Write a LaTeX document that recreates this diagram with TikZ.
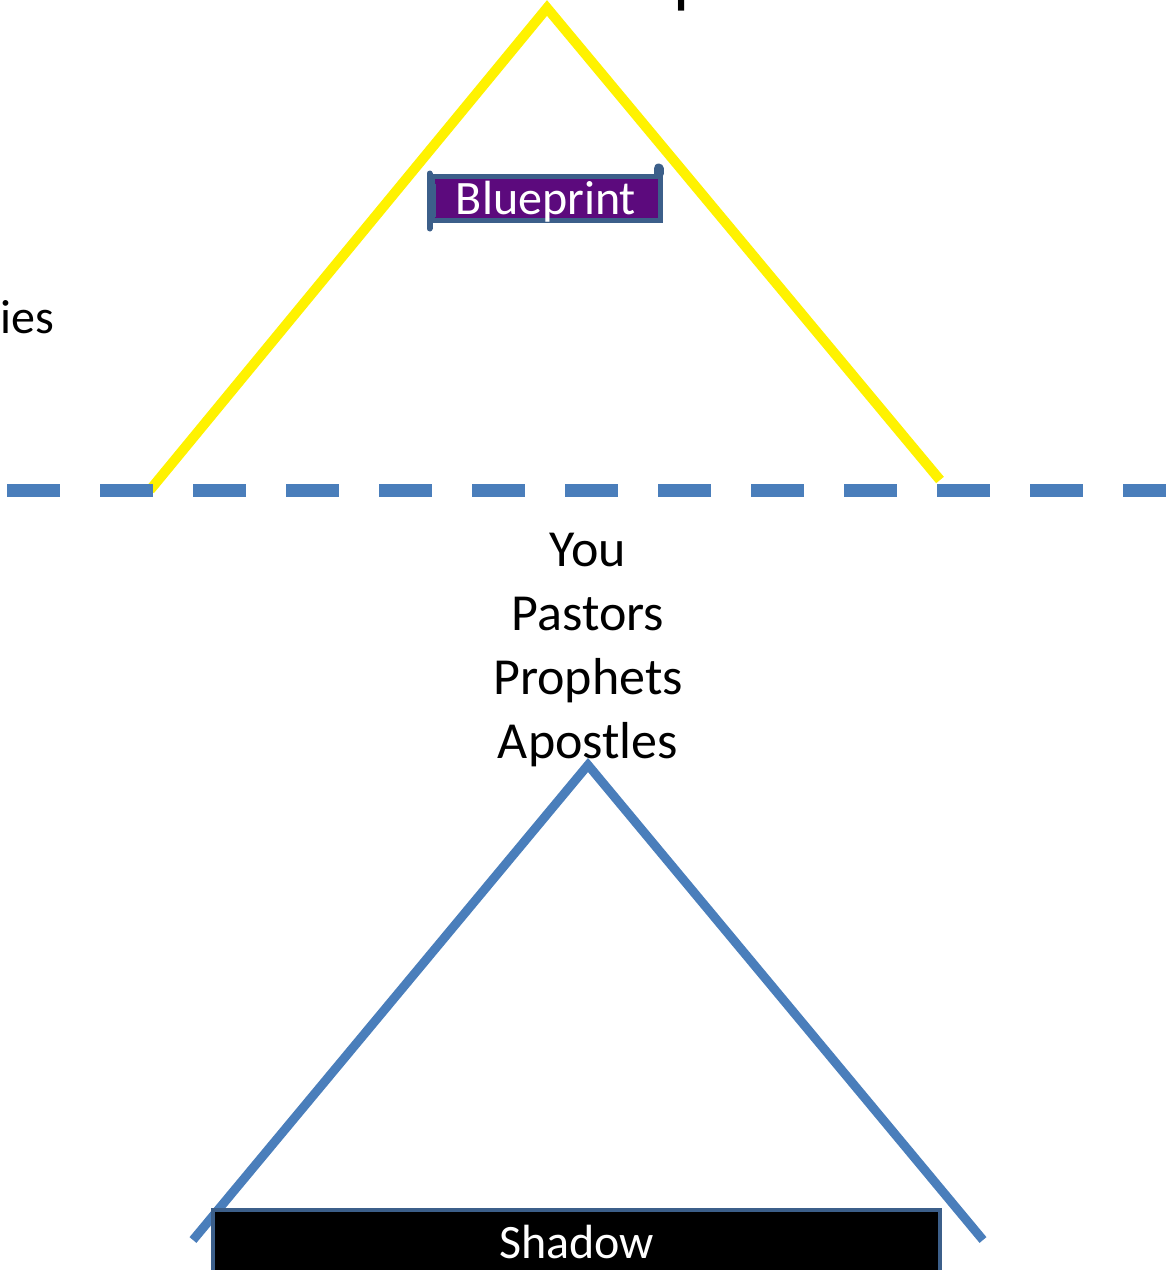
\documentclass[tikz,border=0pt]{standalone}
\usepackage{fontspec}
\setmainfont{Carlito}
\usetikzlibrary{positioning}
\definecolor{lineblue}{HTML}{4A7EBB}
\definecolor{boxedge}{HTML}{3C5F8A}
\definecolor{scrollfill}{HTML}{5C0A7D}
\tikzset{
    word/.style={font=\fontsize{26}{32}\selectfont, inner sep=0pt},
    bigword/.style={font=\fontsize{36}{43}\selectfont, inner sep=0pt},
    smallword/.style={font=\fontsize{24}{29}\selectfont, inner sep=0pt},
    scroll/.style={smallword, text=white, fill=scrollfill, draw=boxedge,
        line width=2.5pt, minimum width=114pt, minimum height=22pt,
        text depth=0.5pt},
    shadowbox/.style={smallword, text=white, fill=black, draw=boxedge,
        line width=2pt, minimum width=363.5pt, minimum height=32pt},
}

\begin{document}
\begin{tikzpicture}[x=0.5pt, y=-0.5pt]
    \useasboundingbox (0,0) rectangle (1166,1270);
    \clip (0,0) rectangle (1166,1270);

    % upper triangle and the line
    \coordinate (yl) at (150,490);
    \coordinate (ytop) at (547,8);
    \coordinate (yr) at (940,480);
    \draw[yellow, line width=5pt] (yl) -- (ytop) -- (yr);

    \coordinate (dstart) at (7,490);
    \coordinate (dend) at (1166,490);
    \draw[lineblue, line width=6.5pt, dash pattern=on 26.5pt off 20pt]
        (dstart) -- (dend);

    \node[bigword, anchor=base west] (title) at (311,-0.5) {Father Son Spirit};
    \node[smallword, anchor=base west] (ies) at (0,333) {ies};

    \node[scroll] (blueprint) at (546,198) {Blueprint};
    \draw[boxedge, line width=3pt, line cap=round]
        (blueprint.north west) -- ([yshift=-3pt]blueprint.south west);
    \draw[boxedge, line width=5pt, line cap=round]
        ([xshift=-2pt]blueprint.north east) -- ++(0,2.5pt);
    \draw[boxedge, line width=1pt]
        ([xshift=2.5pt,yshift=-5pt]blueprint.north west) -- ([xshift=2.5pt,yshift=3pt]blueprint.south west);

    % names
    \node[word, anchor=base] (you) at (588,566) {You};
    \node[word, anchor=base] (pastors) at ([yshift=-32pt]you.base) {Pastors};
    \node[word, anchor=base] (prophets) at ([yshift=-32pt]pastors.base) {Prophets};
    \node[word, anchor=base] (apostles) at ([yshift=-32pt]prophets.base) {Apostles};

    % lower triangle
    \coordinate (bl) at (193,1240);
    \coordinate (btop) at (588,765);
    \coordinate (br) at (983,1240);
    \draw[lineblue, line width=4.5pt] (bl) -- (btop) -- (br);

    \node[shadowbox] (shadow) at (576.5,1242) {Shadow};

\end{tikzpicture}
\end{document}
